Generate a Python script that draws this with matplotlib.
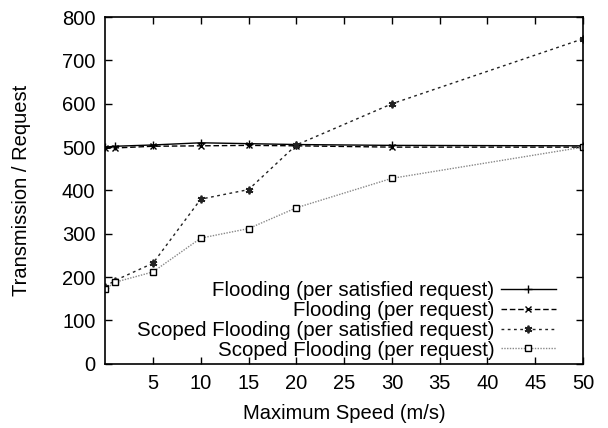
import numpy as np
import matplotlib.pyplot as plt

plt.rcParams['font.family'] = ['Liberation Sans', 'DejaVu Sans']

speed = [0, 1, 5, 10, 15, 20, 30, 50]
flood_sat = [500, 502, 505, 510, 508, 506, 504, 503]
flood_req = [497, 498, 502, 503, 504, 503, 500, 500]
scoped_sat = [178, 192, 232, 380, 402, 505, 600, 750]
scoped_req = [172, 188, 212, 290, 312, 360, 428, 500]

labels = ["Flooding (per satisfied request)",
          "Flooding (per request)",
          "Scoped Flooding (per satisfied request)",
          "Scoped Flooding (per request)"]

fig = plt.figure(figsize=(6.08, 4.28), dpi=100)
ax = fig.add_axes([0.173, 0.150, 0.786, 0.810])

ax.plot(speed, flood_sat, color='black', lw=1.0, ls='-', marker='+', ms=6,
        mew=1.0, label=labels[0])
ax.plot(speed, flood_req, color='black', lw=1.0, ls=(0, (4, 2)), marker='x',
        ms=4.5, mew=1.0, label=labels[1])
ax.plot(speed, scoped_sat, color='#222222', lw=1.0, ls=(0, (2, 2.5)),
        marker=(6, 2, 0), ms=5.5, mew=1.3, label=labels[2])
ax.plot(speed, scoped_req, color='#888888', lw=1.0, ls=(0, (1, 1)), marker='s',
        ms=5, mfc='white', mec='black', mew=1.0, label=labels[3])

ax.set_xlim(0, 50)
ax.set_ylim(0, 800)
ax.set_xticks(np.arange(5, 51, 5))
ax.set_yticks(np.arange(0, 801, 100))
ax.tick_params(direction='in', top=True, right=True, labelsize=14.5, length=5,
               width=1.0, pad=7)
for s in ax.spines.values():
    s.set_linewidth(1.2)

ax.set_xlabel("Maximum Speed (m/s)", fontsize=14.5, labelpad=8)
ax.set_ylabel("Transmission / Request", fontsize=14.5, labelpad=22)

leg = ax.legend(loc='lower right', markerfirst=False, alignment='right',
                frameon=False, fontsize=14.8, handlelength=2.7, handletextpad=0.3,
                labelspacing=0.04, borderaxespad=0.0, borderpad=0.2,
                bbox_to_anchor=(0.952, 0.0))

fig.savefig("out.png", dpi=100)
plt.close(fig)
